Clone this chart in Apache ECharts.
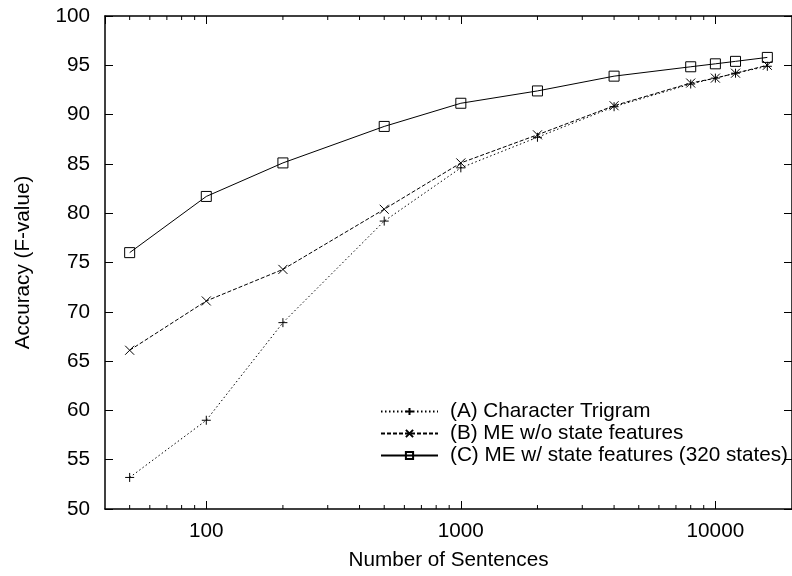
<!DOCTYPE html>
<html>
<head>
<meta charset="utf-8">
<script src="https://cdn.jsdelivr.net/npm/echarts@6/dist/echarts.min.js"></script>
<style>
  html, body { margin: 0; padding: 0; background: #fff; }
  #box { width: 792px; height: 576px; }
</style>
</head>
<body>
<div id="box"></div>
<script>
// data
var sentences = [50, 100, 200, 500, 1000, 2000, 4000, 8000, 10000, 12000, 16000];
var trigram = [53.2, 59.0, 68.9, 79.2, 84.6, 87.7, 90.8, 93.1, 93.7, 94.2, 94.9];
var meNoState = [66.1, 71.1, 74.3, 80.4, 85.1, 87.95, 90.9, 93.2, 93.7, 94.2, 95.0];
var meState = [76.0, 81.7, 85.1, 88.8, 91.15, 92.4, 93.9, 94.85, 95.15, 95.4, 95.8];
var seriesNames = ["(A) Character Trigram", "(B) ME w/o state features", "(C) ME w/ state features (320 states)"];
var minorTicks = [50, 60, 70, 80, 90, 200, 300, 400, 500, 600, 700, 800, 900,
  2000, 3000, 4000, 5000, 6000, 7000, 8000, 9000];

var xMin = 40, xMax = 20000, yMin = 50, yMax = 100;
var font = "'Liberation Sans', Arial, Helvetica, sans-serif";
var fs = 20.7;

function pairs(ys) {
  return sentences.map(function (x, i) { return [x, ys[i]]; });
}

var chart = echarts.init(document.getElementById("box"), null, { renderer: "canvas" });

var frameLine = { show: true, lineStyle: { color: "#000", width: 1.5 } };

var option = {
  animation: false,
  backgroundColor: "#fff",
  textStyle: { fontFamily: font },
  grid: { left: 105, top: 16, width: 691, height: 495, containLabel: false },
  legend: {
    data: seriesNames,
    orient: "vertical",
    left: 380,
    top: 401,
    padding: 0,
    itemWidth: 57,
    itemHeight: 9,
    itemGap: 1,
    selectedMode: false,
    textStyle: { fontFamily: font, fontSize: fs, color: "#000", padding: [0, 0, 0, 7] }
  },
  xAxis: [
    {
      type: "log",
      logBase: 10,
      min: xMin,
      max: xMax,
      position: "bottom",
      name: "Number of Sentences",
      nameLocation: "middle",
      nameGap: 41,
      nameTextStyle: { fontFamily: font, fontSize: fs, color: "#000" },
      axisLine: frameLine,
      axisTick: { show: true, inside: true, length: 8, lineStyle: { color: "#000", width: 1 } },
      axisLabel: {
        color: "#000", fontSize: fs, fontFamily: font, margin: 12,
        showMinLabel: false, showMaxLabel: false,
        formatter: function (v) { return String(Math.round(v)); }
      },
      splitLine: { show: false }
    },
    {
      type: "log",
      logBase: 10,
      min: xMin,
      max: xMax,
      position: "top",
      axisLine: frameLine,
      axisTick: { show: true, inside: true, length: 8, lineStyle: { color: "#000", width: 1 } },
      axisLabel: { show: false },
      splitLine: { show: false }
    }
  ],
  yAxis: [
    {
      type: "value",
      min: yMin,
      max: yMax,
      interval: 5,
      position: "left",
      name: "Accuracy (F-value)",
      nameLocation: "middle",
      nameGap: 71,
      nameTextStyle: { fontFamily: font, fontSize: fs, color: "#000" },
      axisLine: frameLine,
      axisTick: { show: true, inside: true, length: 8, lineStyle: { color: "#000", width: 1 } },
      axisLabel: { color: "#000", fontSize: fs, fontFamily: font, margin: 15 },
      splitLine: { show: false }
    },
    {
      type: "value",
      min: yMin,
      max: yMax,
      interval: 5,
      position: "right",
      axisLine: frameLine,
      axisTick: { show: true, inside: true, length: 8, lineStyle: { color: "#000", width: 1 } },
      axisLabel: { show: false },
      splitLine: { show: false }
    }
  ],
  series: [
    {
      name: seriesNames[0],
      type: "line",
      data: pairs(trigram),
      symbol: "path://M0,5L10,5M5,0L5,10",
      symbolSize: 9,
      lineStyle: { color: "#000", width: 1, type: [1.5, 2.5] },
      itemStyle: { color: "rgba(0,0,0,0)", borderColor: "#000", borderWidth: 1 },
      z: 3
    },
    {
      name: seriesNames[1],
      type: "line",
      data: pairs(meNoState),
      symbol: "path://M0,0L10,10M10,0L0,10",
      symbolSize: 9,
      lineStyle: { color: "#000", width: 1, type: [4, 2] },
      itemStyle: { color: "rgba(0,0,0,0)", borderColor: "#000", borderWidth: 1 },
      z: 3
    },
    {
      name: seriesNames[2],
      type: "line",
      data: pairs(meState),
      symbol: "rect",
      symbolSize: 10,
      lineStyle: { color: "#000", width: 1, type: "solid" },
      itemStyle: { color: "rgba(0,0,0,0)", borderColor: "#000", borderWidth: 1 },
      z: 3
    },
    {
      // minor log ticks on bottom and top frame
      type: "custom",
      silent: true,
      data: minorTicks.map(function (v) { return [v, yMin]; }),
      renderItem: function (params, api) {
        var b = api.coord([api.value(0), yMin]);
        var t = api.coord([api.value(0), yMax]);
        var st = { stroke: "#000", lineWidth: 1 };
        return {
          type: "group",
          children: [
            { type: "line", shape: { x1: b[0], y1: b[1], x2: b[0], y2: b[1] - 4 }, style: st },
            { type: "line", shape: { x1: t[0], y1: t[1], x2: t[0], y2: t[1] + 4 }, style: st }
          ]
        };
      },
      z: 2
    }
  ]
};

chart.setOption(option);
</script>
</body>
</html>
